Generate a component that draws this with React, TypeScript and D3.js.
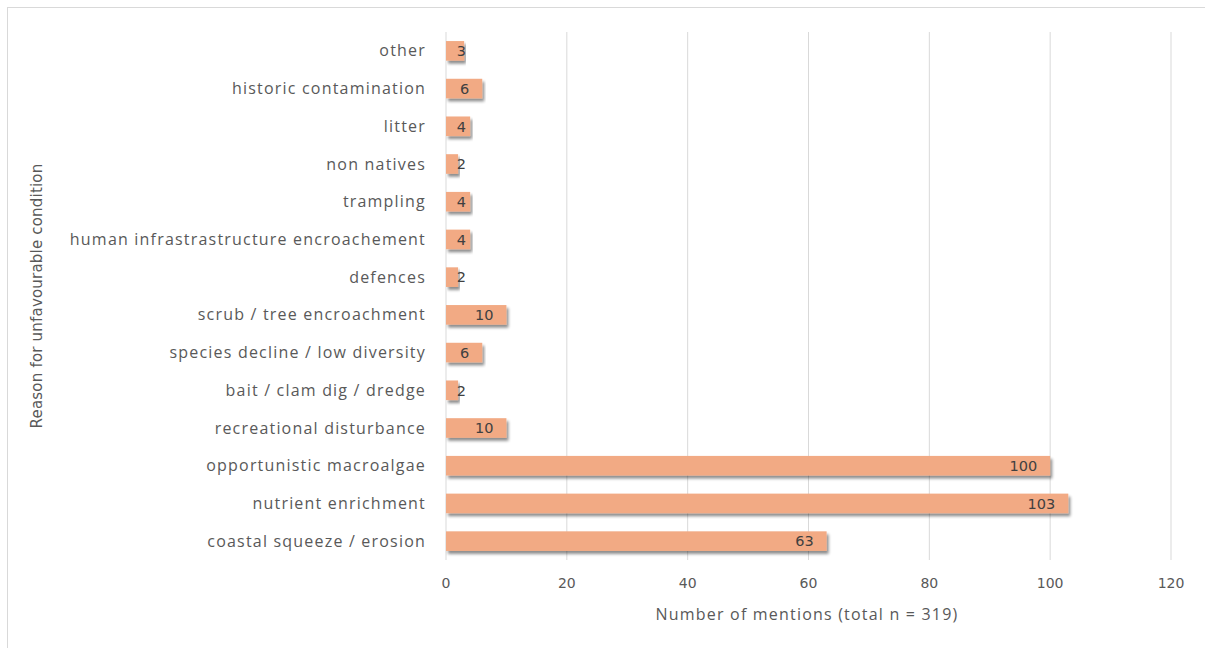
import React from "react";
import * as d3 from "d3";

const categories = [
  "other",
  "historic contamination",
  "litter",
  "non natives",
  "trampling",
  "human infrastrastructure encroachement",
  "defences",
  "scrub / tree encroachment",
  "species decline / low diversity",
  "bait / clam dig / dredge",
  "recreational disturbance",
  "opportunistic macroalgae",
  "nutrient enrichment",
  "coastal squeeze / erosion",
];
const values = [3, 6, 4, 2, 4, 4, 2, 10, 6, 2, 10, 100, 103, 63];
const xTicks = [0, 20, 40, 60, 80, 100, 120];

const W = 1205;
const H = 648;
const left = 446;
const right = 1171;
const top = 32;
const bottom = 560;

export default function App() {
  const x = d3.scaleLinear().domain([0, 120]).range([left, right]);
  const y = d3.scaleBand<string>().domain(categories).range([top, bottom]).paddingInner(0.48).paddingOuter(0.24);
  const bh = y.bandwidth();
  return (
    <svg width={W} height={H} style={{ position: "absolute", left: 0, top: 0, background: "#fff" }}>
      <defs>
        <filter id="sh" x="-5%" y="-30%" width="115%" height="190%">
          <feGaussianBlur in="SourceAlpha" stdDeviation="1.5" />
          <feOffset dx="2" dy="3" result="o" />
          <feComponentTransfer>
            <feFuncA type="linear" slope="0.45" />
          </feComponentTransfer>
          <feMerge>
            <feMergeNode />
            <feMergeNode in="SourceGraphic" />
          </feMerge>
        </filter>
      </defs>
      <rect x={7.5} y={7.5} width={W + 10} height={H + 10} fill="#fff" stroke="#d9d9d9" />
      {xTicks.map((t) => (
        <g key={t}>
          {t > 0 && <line x1={x(t)} x2={x(t)} y1={top} y2={bottom} stroke="#d9d9d9" strokeWidth={1} />}
          <text x={x(t)} y={588} textAnchor="middle" fontFamily="DejaVu Sans" fontSize={14} fill="#595959">
            {t}
          </text>
        </g>
      ))}
      <line x1={x(0)} x2={x(0)} y1={top} y2={bottom} stroke="#d9d9d9" />
      {categories.map((c, i) => {
        const yy = y(c)!;
        const v = values[i];
        const lx = Math.max(x(v) - 13, x(0) + 20);
        return (
          <g key={c}>
            <text x={426} y={yy + bh / 2} dy="0.35em" textAnchor="end" fontFamily="Open Sans" fontSize={16} letterSpacing={1.2} fill="#595959">
              {c}
            </text>
            <rect x={x(0)} y={yy} width={x(v) - x(0)} height={bh} fill="#F2AA84" filter="url(#sh)" />
            <text x={lx} y={yy + bh / 2} dy="0.36em" textAnchor="end" fontFamily="DejaVu Sans" fontSize={14.5} fill="#404040">
              {v}
            </text>
          </g>
        );
      })}
      <text x={807} y={620} textAnchor="middle" fontFamily="Open Sans" fontSize={16} letterSpacing={1.2} fill="#595959">
        Number of mentions (total n = 319)
      </text>
      <text transform={`translate(42,${296}) rotate(-90)`} textAnchor="middle" fontFamily="DejaVu Sans" fontSize={15} letterSpacing={0.2} fill="#595959">
        Reason for unfavourable condition
      </text>
    </svg>
  );
}
